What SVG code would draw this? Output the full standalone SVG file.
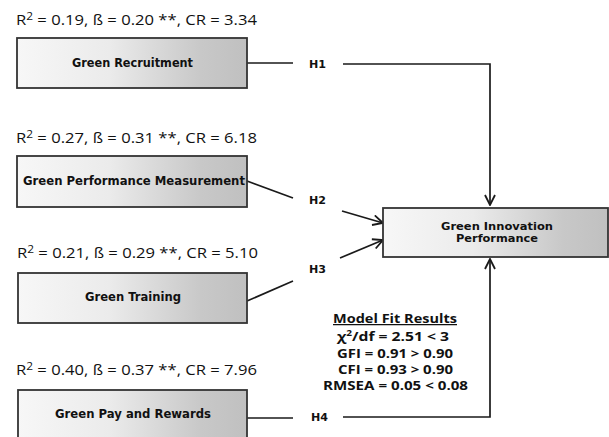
<svg xmlns="http://www.w3.org/2000/svg" width="609" height="437" viewBox="0 0 609 437">
<defs>
<linearGradient id="g" x1="0" y1="0" x2="1" y2="0">
<stop offset="0" stop-color="#f7f7f7"/>
<stop offset="0.4" stop-color="#ebebeb"/>
<stop offset="0.8" stop-color="#c8c8c8"/>
<stop offset="1" stop-color="#c0c0c0"/>
</linearGradient>
<marker id="arr" viewBox="0 0 12 12" refX="11" refY="6" markerWidth="12" markerHeight="12" markerUnits="userSpaceOnUse" orient="auto">
<path d="M1,1 L11,6 L1,11" fill="none" stroke="#1a1a1a" stroke-width="1.8"/>
</marker>
</defs>
<style>
.box{fill:url(#g);stroke:#333;stroke-width:1.8}
.lbl{font-family:"DejaVu Sans",sans-serif;font-weight:bold;font-size:11.5px;fill:#111;text-anchor:middle}
.tl{font-size:10.2px}
.stat{font-family:"Open Sans","Liberation Sans",sans-serif;font-size:14px;fill:#111}
.h{font-family:"DejaVu Sans",sans-serif;font-weight:bold;font-size:10px;fill:#111}
.fit{font-family:"Open Sans","Liberation Sans",sans-serif;font-weight:bold;font-size:12.5px;fill:#111;text-anchor:middle}
.c{fill:none;stroke:#1a1a1a;stroke-width:1.7}
</style>
<rect width="609" height="437" fill="#fff"/>
<g id="connectors">
<path class="c" d="M247,63 H293"/>
<path class="c" d="M343,64 H490 V205" marker-end="url(#arr)"/>
<path class="c" d="M247,181 L293,198"/>
<path class="c" d="M342,211 L383,223" marker-end="url(#arr)"/>
<path class="c" d="M247,301 L293,281"/>
<path class="c" d="M340,258 L383,240" marker-end="url(#arr)"/>
<path class="c" d="M247,418 H293"/>
<path class="c" d="M343,417 H490 V259" marker-end="url(#arr)"/>
<text class="h" x="309" y="68" textLength="17" lengthAdjust="spacingAndGlyphs">H1</text>
<text class="h" x="309" y="204" textLength="17" lengthAdjust="spacingAndGlyphs">H2</text>
<text class="h" x="309" y="273" textLength="17" lengthAdjust="spacingAndGlyphs">H3</text>
<text class="h" x="311" y="421" textLength="17" lengthAdjust="spacingAndGlyphs">H4</text>
</g>
<g id="n1">
<text class="stat" x="16" y="25" textLength="241" lengthAdjust="spacingAndGlyphs">R<tspan font-size="10" dy="-5">2</tspan><tspan dy="5"> = 0.19, ß = 0.20 **, CR = 3.34</tspan></text>
<rect class="box" x="17" y="38" width="230" height="50"/>
<text class="lbl" x="132.5" y="67" textLength="121" lengthAdjust="spacingAndGlyphs">Green Recruitment</text>
</g>
<g id="n2">
<text class="stat" x="16" y="143" textLength="241" lengthAdjust="spacingAndGlyphs">R<tspan font-size="10" dy="-5">2</tspan><tspan dy="5"> = 0.27, ß = 0.31 **, CR = 6.18</tspan></text>
<rect class="box" x="17" y="156" width="230" height="51"/>
<text class="lbl" x="134" y="185" textLength="222" lengthAdjust="spacingAndGlyphs">Green Performance Measurement</text>
</g>
<g id="n3">
<text class="stat" x="17" y="258" textLength="241" lengthAdjust="spacingAndGlyphs">R<tspan font-size="10" dy="-5">2</tspan><tspan dy="5"> = 0.21, ß = 0.29 **, CR = 5.10</tspan></text>
<rect class="box" x="18" y="273" width="229" height="50"/>
<text class="lbl" x="133" y="301" textLength="96" lengthAdjust="spacingAndGlyphs">Green Training</text>
</g>
<g id="n4">
<text class="stat" x="16" y="375" textLength="241" lengthAdjust="spacingAndGlyphs">R<tspan font-size="10" dy="-5">2</tspan><tspan dy="5"> = 0.40, ß = 0.37 **, CR = 7.96</tspan></text>
<rect class="box" x="18" y="390" width="229" height="60"/>
<text class="lbl" x="133" y="418" textLength="156" lengthAdjust="spacingAndGlyphs">Green Pay and Rewards</text>
</g>
<g id="target">
<rect class="box" x="383" y="208" width="225" height="49"/>
<text class="lbl tl" x="497" y="230" textLength="112" lengthAdjust="spacingAndGlyphs">Green Innovation</text>
<text class="lbl tl" x="497" y="242" textLength="82" lengthAdjust="spacingAndGlyphs">Performance</text>
</g>
<g id="fit">
<text class="fit" x="395" y="323" textLength="124" lengthAdjust="spacingAndGlyphs" text-decoration="underline">Model Fit Results</text>
<text class="fit" x="393" y="341" textLength="112" lengthAdjust="spacingAndGlyphs">χ<tspan font-size="8" dy="-5">2</tspan><tspan dy="5">/df = 2.51 &lt; 3</tspan></text>
<text class="fit" x="395" y="358" textLength="116" lengthAdjust="spacingAndGlyphs">GFI = 0.91 &gt; 0.90</text>
<text class="fit" x="395.5" y="374" textLength="115" lengthAdjust="spacingAndGlyphs">CFI = 0.93 &gt; 0.90</text>
<text class="fit" x="395.5" y="390" textLength="145" lengthAdjust="spacingAndGlyphs">RMSEA = 0.05 &lt; 0.08</text>
</g>
</svg>
